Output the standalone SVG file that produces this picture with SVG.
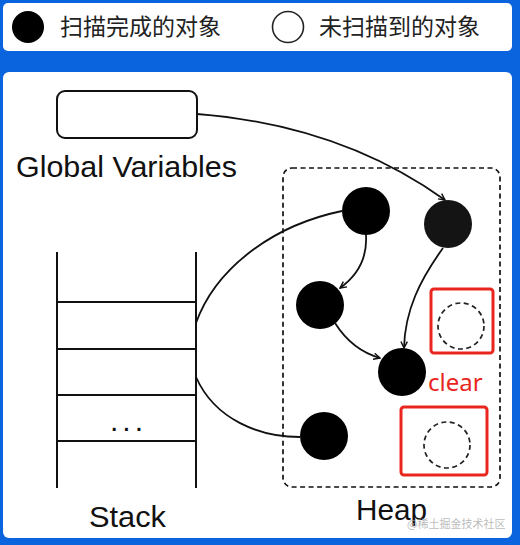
<svg xmlns="http://www.w3.org/2000/svg" width="520" height="545" viewBox="0 0 520 545">
<style>
.lbl{font-family:"Liberation Sans",Arial,sans-serif;font-size:30px;fill:#111}
.cjk{font-family:"Noto Sans CJK SC","Liberation Sans",sans-serif;font-size:23px;fill:#222}
.obj{fill:#000}
.gone{fill:none;stroke:#222;stroke-width:1.7;stroke-dasharray:5 3.5}
.redbox{fill:none;stroke:#e8261e;stroke-width:3}
.edge{fill:none;stroke:#111;stroke-width:1.8}
.stk{stroke:#111;stroke-width:2}
</style>
<defs>
<marker id="arr" viewBox="0 0 10 10" refX="9" refY="5" markerWidth="8" markerHeight="8" orient="auto" markerUnits="userSpaceOnUse">
<path d="M1,1 L9,5 L1,9" fill="none" stroke="#111" stroke-width="1.8"/>
</marker>
</defs>
<rect x="0" y="0" width="520" height="545" fill="#0a64de"/>
<g id="legend">
<rect x="3" y="3" width="509" height="48" rx="5" fill="#fff"/>
<circle cx="28" cy="27" r="16" fill="#000"/>
<text class="cjk" x="60" y="35">扫描完成的对象</text>
<circle cx="288" cy="27" r="15.5" fill="none" stroke="#222" stroke-width="1.6"/>
<text class="cjk" x="319" y="35">未扫描到的对象</text>
</g>
<rect x="3" y="72" width="509" height="466" rx="6" fill="#fff"/>
<g id="global">
<rect x="57" y="91" width="140" height="47" rx="8" fill="#fff" stroke="#111" stroke-width="2"/>
<text class="lbl" x="16" y="177" textLength="221" lengthAdjust="spacingAndGlyphs">Global Variables</text>
</g>
<g id="stack">
<line class="stk" x1="57" y1="252" x2="57" y2="488"/>
<line class="stk" x1="196" y1="252" x2="196" y2="488"/>
<line class="stk" x1="57" y1="302" x2="196" y2="302"/>
<line class="stk" x1="57" y1="349" x2="196" y2="349"/>
<line class="stk" x1="57" y1="395" x2="196" y2="395"/>
<line class="stk" x1="57" y1="441" x2="196" y2="441"/>
<text x="110" y="431" font-family="Liberation Sans,Arial,sans-serif" font-size="30" letter-spacing="4" fill="#111">...</text>
<text class="lbl" x="89" y="527" textLength="77" lengthAdjust="spacingAndGlyphs">Stack</text>
</g>
<g id="heap">
<rect x="283" y="168" width="217" height="319" rx="9" fill="none" stroke="#111" stroke-width="1.7" stroke-dasharray="5 3.5"/>
<text class="lbl" x="356" y="520" textLength="71" lengthAdjust="spacingAndGlyphs">Heap</text>
</g>
<g id="objA"><circle class="obj" cx="366" cy="211" r="24"/></g>
<g id="objB"><circle cx="448" cy="224" r="24" fill="#141414"/></g>
<g id="objC"><circle class="obj" cx="320" cy="305" r="24"/></g>
<g id="objD"><circle class="obj" cx="402" cy="372" r="24"/></g>
<g id="objE"><circle class="obj" cx="324" cy="436" r="24"/></g>
<g id="garbage1">
<rect class="redbox" x="431" y="289" width="62" height="64" rx="3"/>
<circle class="gone" cx="461" cy="326" r="23"/>
</g>
<g id="garbage2">
<rect class="redbox" x="401" y="407" width="86" height="68" rx="3"/>
<circle class="gone" cx="447" cy="445" r="23"/>
</g>
<text x="428" y="391" font-family="Noto Sans,Liberation Sans,sans-serif" font-size="24" fill="#e8261e">clear</text>
<g id="connectors">
<path class="edge" d="M197,114 Q340,125 445,200" marker-end="url(#arr)"/>
<path class="edge" d="M196,323 C215,270 270,226 342,211"/>
<path class="edge" d="M196,377 C215,420 260,437 300,437"/>
<path class="edge" d="M366,235 Q368,268 340,288" marker-end="url(#arr)"/>
<path class="edge" d="M335,323 Q352,350 380,358" marker-end="url(#arr)"/>
<path class="edge" d="M443,248 C420,280 405,310 404,348" marker-end="url(#arr)"/>
</g>
<text x="407" y="528" font-family="Noto Sans CJK SC,sans-serif" font-size="11" fill="#aaa" fill-opacity="0.8">@稀土掘金技术社区</text>
</svg>
